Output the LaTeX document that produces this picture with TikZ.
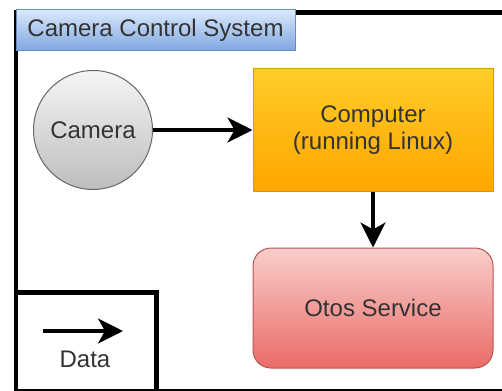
\documentclass[tikz,border=0pt]{standalone}
\usepackage{fontspec}
\setmainfont{Liberation Sans}
\usetikzlibrary{arrows.meta}

\definecolor{txt}{HTML}{333333}
\definecolor{grayfillA}{HTML}{F5F5F5}
\definecolor{grayfillB}{HTML}{BDBDBD}
\definecolor{grayline}{HTML}{666666}
\definecolor{orangeA}{HTML}{FFCD28}
\definecolor{orangeB}{HTML}{FFA500}
\definecolor{orangeline}{HTML}{D79B00}
\definecolor{redA}{HTML}{F8CECC}
\definecolor{redB}{HTML}{EA6B66}
\definecolor{redline}{HTML}{B85450}
\definecolor{blueA}{HTML}{DAE8FC}
\definecolor{blueB}{HTML}{7EA6E0}
\definecolor{blueline}{HTML}{6C8EBF}

\tikzset{
  label text/.style={text=txt, font=\fontsize{24}{27}\selectfont, align=center},
  camerabox/.style={circle, draw=grayline, line width=1pt, inner sep=0pt,
    minimum size=119pt, top color=grayfillA, bottom color=grayfillB, label text},
  computerbox/.style={rectangle, draw=orangeline, line width=1pt,
    minimum width=240pt, minimum height=122pt, top color=orangeA, bottom color=orangeB, label text},
  servicebox/.style={rectangle, rounded corners=18pt, draw=redline, line width=1pt,
    minimum width=240pt, minimum height=120pt, top color=redA, bottom color=redB, label text},
  titletab/.style={rectangle, draw=blueline, line width=1pt,
    minimum width=279pt, minimum height=41pt, top color=blueA, bottom color=blueB, label text},
  framebox/.style={draw=black, line width=4.6pt},
  flow/.style={draw=black, line width=3.5pt,
    -{Stealth[length=25pt, width=25pt, inset=7pt]}},
}

\begin{document}
\begin{tikzpicture}[x=1pt, y=-1pt]
\useasboundingbox (0,0) rectangle (502,390);

\begin{scope}
  \clip (0,0) rectangle (502,390);
  % outer system frame, running off the right edge
  \node[framebox, anchor=north west, minimum width=520pt, minimum height=378.5pt,
        inner sep=0pt] (frame) at (13.5,10) {};
  % legend box in the lower left corner
  \node[framebox, anchor=north west, minimum width=140.5pt, minimum height=98.5pt,
        inner sep=0pt] (legend) at (13.5,290) {};
\end{scope}

% title tab
\node[titletab] (title) at (155.5,30.5) {Camera Control System};

% components
\node[camerabox] (camera) at (93,130) {Camera};
\node[computerbox] (computer) at (373,130) {Computer\\(running Linux)};
\node[servicebox] (service) at (373,308) {Otos Service};

% data flow
\draw[flow] (camera) -- (computer);
\draw[flow] (computer) -- (service);

% legend contents
\coordinate (legstart) at (43,331);
\coordinate (legend end) at (123,331);
\draw[flow] (legstart) -- (legend end);
\node[label text] (datalabel) at (85,359) {Data};
\end{tikzpicture}
\end{document}
